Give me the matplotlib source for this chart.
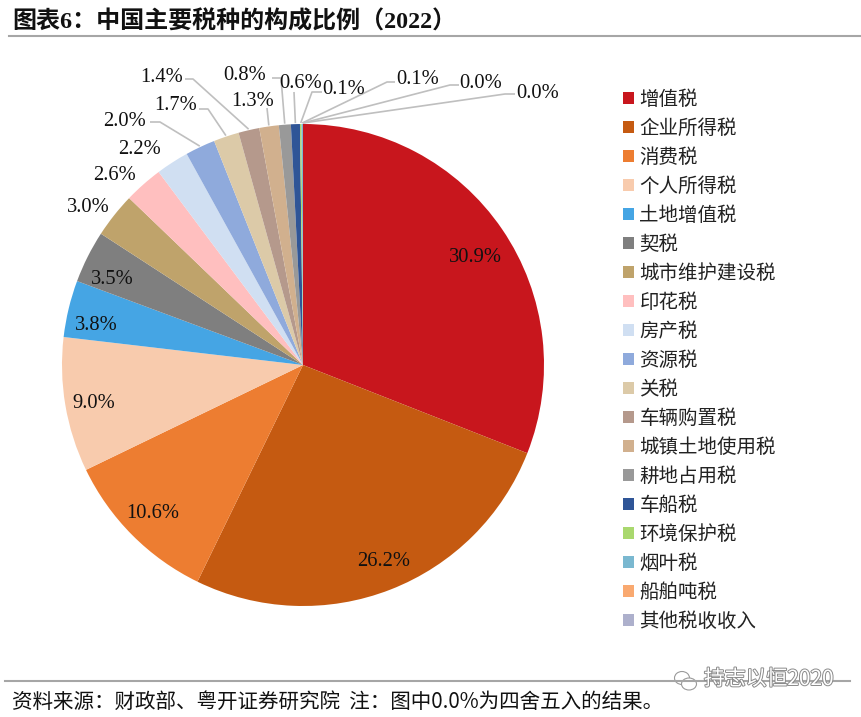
import matplotlib
matplotlib.use("Agg")
import matplotlib.pyplot as plt
import matplotlib.patheffects as pe
from matplotlib.patches import Ellipse
import numpy as np

taxes = ["增值税", "企业所得税", "消费税", "个人所得税", "土地增值税", "契税", "城市维护建设税",
         "印花税", "房产税", "资源税", "关税", "车辆购置税", "城镇土地使用税", "耕地占用税",
         "车船税", "环境保护税", "烟叶税", "船舶吨税", "其他税收收入"]
shares = [30.9, 26.2, 10.6, 9.0, 3.8, 3.5, 3.0, 2.6, 2.2, 2.0, 1.7, 1.4, 1.3, 0.8, 0.6, 0.1, 0.1, 0.0, 0.0]
colors = ["#c8161d", "#c55a11", "#ed7d31", "#f8cbad", "#45a5e4", "#7f7f7f", "#bfa36b", "#ffbfbf",
          "#d0dff2", "#8faadc", "#dccaa8", "#b5998c", "#d1b08e", "#999999", "#2f5597", "#a9d86e",
          "#7ab8d0", "#f9a970", "#adb0cc"]

# label centres in picture pixels, same order as shares
label_xy = [(475, 257), (384, 561), (153, 514), (94, 403), (96, 325), (112, 279), (88, 207),
            (115, 176), (140, 149), (125, 121), (176, 106), (162, 78), (253, 101), (245, 75),
            (301, 84), (344, 90), (418, 79), (481, 83), (538, 93)]
# leader lines: index of the share -> picture pixels from the label to the elbow
leaders = {9: [(150, 122), (160, 122)], 10: [(199, 109), (208, 109)], 11: [(185, 79), (193, 79)],
           12: [(267, 108)], 13: [(272, 78), (281, 78)], 14: [(294, 92)],
           15: [(322, 92), (312, 92)], 16: [(395, 82), (387, 82)],
           17: [(459, 85), (450, 85)], 18: [(515, 94), (505, 94)]}

title = "图表6\uff1a中国主要税种的构成比例\uff082022\uff09"
footer = "资料来源\uff1a财政部、粤开证券研究院  注\uff1a图中0.0%为四舍五入的结果。"

W, H = 862, 717
SERIF = ["Liberation Serif", "Noto Sans CJK SC"]
CJK = ["Noto Sans CJK SC", "Liberation Serif"]
RADIUS = 241
CX, CY = 303, 365


def flip(y):
    return H - y


fig = plt.figure(figsize=(W / 100, H / 100), dpi=100)
ax = fig.add_axes([0, 0, 1, 1])

wedges, _ = ax.pie(shares, colors=colors, startangle=90, counterclock=False,
                   center=(CX, flip(CY)), radius=RADIUS, frame=True)
ax.set_xlim(0, W)
ax.set_ylim(0, H)
ax.set_aspect("auto")
ax.axis("off")

for i, (x, y) in enumerate(label_xy):
    ax.text(x, flip(y), f"{shares[i]:.1f}%", family="Liberation Serif", fontsize=14.8,
            ha="center", va="center", color="#111111")

for i, pts in leaders.items():
    angle = np.deg2rad((wedges[i].theta1 + wedges[i].theta2) / 2)
    xs = [p[0] for p in pts] + [CX + (RADIUS + 1) * np.cos(angle)]
    ys = [flip(p[1]) for p in pts] + [flip(CY) + (RADIUS + 1) * np.sin(angle)]
    ax.plot(xs, ys, color="#bfbfbf", lw=1.2, solid_capstyle="butt")

ax.legend(wedges, taxes, loc="upper left", bbox_to_anchor=(623, flip(89)),
          bbox_transform=ax.transData, frameon=False, ncol=1,
          prop={"family": CJK, "size": 14}, handlelength=0.56, handleheight=0.56,
          handletextpad=0.28, labelspacing=0.41, borderpad=0, borderaxespad=0,
          labelcolor="#222222")

# title and footer
ax.text(12, flip(22), title, family=SERIF, fontsize=17.3,
        fontweight="bold", ha="left", va="center", color="#111111")
ax.plot([9, W], [flip(36), flip(36)], color="#a6a6a6", lw=1.5)
ax.plot([5, 850], [flip(681), flip(681)], color="#a6a6a6", lw=1.5)
ax.text(12, flip(702), footer, family=CJK,
        fontsize=14.8, ha="left", va="center", color="#111111")

# watermark
ax.text(704, flip(679), "持志以恒2020", family=CJK, fontsize=15, ha="left", va="center", color="white",
        path_effects=[pe.withStroke(linewidth=1.4, foreground="#8a8a8a")])
ax.add_patch(Ellipse((682, flip(678)), 15, 13, fc="white", ec="#9a9a9a", lw=0.8))
ax.add_patch(Ellipse((689, flip(684)), 15, 12, fc="white", ec="#9a9a9a", lw=0.8))

fig.savefig("out.png", dpi=100)
